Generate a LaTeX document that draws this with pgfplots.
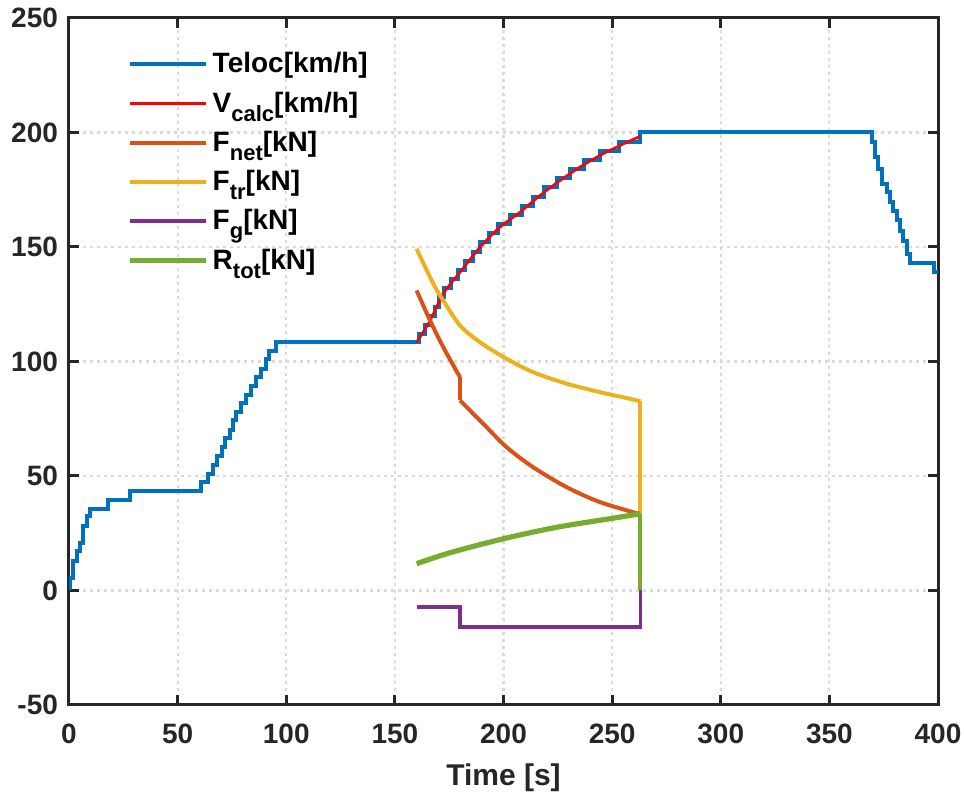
\documentclass[border=0pt]{standalone}
\usepackage{pgfplots}
\pgfplotsset{compat=1.18}
\usepackage{fontspec}
\setmainfont{Liberation Sans}
\definecolor{mblue}{rgb}{0,0.447,0.741}
\definecolor{morange}{rgb}{0.85,0.325,0.098}
\definecolor{myellow}{rgb}{0.929,0.694,0.125}
\definecolor{mpurple}{rgb}{0.494,0.184,0.556}
\definecolor{mgreen}{rgb}{0.466,0.674,0.188}
\definecolor{axc}{rgb}{0.15,0.15,0.15}
\newcommand{\sub}[1]{\raisebox{-4.5pt}{\fontsize{11}{12}\selectfont #1}}
\begin{document}
\begin{tikzpicture}
\begin{axis}[
  scale only axis, width=434.5pt, height=343.5pt,
  xmin=0, xmax=400, ymin=-50, ymax=250,
  xtick={0,50,...,400}, ytick={-50,0,...,250},
  grid=major,
  grid style={dash pattern=on 1.5pt off 2pt, line width=1.1pt, color=black!14},
  axis line style={line width=1.5pt, color=axc},
  major tick style={line width=1.5pt, color=axc},
  major tick length=5pt, tick align=inside,
  /pgf/number format/assume math mode=true,
  tick label style={font=\fontsize{14}{16}\selectfont\bfseries, color=axc},
  xticklabel style={yshift=-6pt},
  yticklabel style={xshift=-2pt},
  xlabel={Time [s]},
  xlabel style={font=\fontsize{15}{17}\selectfont\bfseries, color=axc, yshift=-3pt},
  legend style={draw=none, fill=none, at={(0.06,0.962)}, anchor=north west,
    font=\fontsize{14}{16}\selectfont\bfseries, row sep=4pt},
  legend cell align=left,
  legend image code/.code={\draw[#1] (0pt,0pt) -- (38pt,0pt);},
]
\addplot[const plot, color=mblue, line width=2pt] coordinates {
(0,1.1) (0.5,5.5) (2,12.9) (3.5,17.2) (5,20.9) (6.6,28.2) (8.1,32.6) (9.6,35.5)
(18,39.5) (28.3,43.3) (60.9,47.2) (64.2,50.9) (66.2,55) (68,58.9) (70.3,62.6)
(71.9,66.7) (73.9,70.2) (75.4,74.3) (76.9,77.9) (79.2,81.9) (81.5,85.5) (83.8,89.5)
(86.1,93.3) (88.4,96.9) (90.7,100.9) (92.2,104.7) (95.3,108.3)
(161,112) (163.7,116) (166.3,120) (168.3,124) (170.4,128) (172.6,132) (175.9,136)
(179.2,140) (182.5,144) (185.9,148) (189.3,152) (193.5,156) (197.6,160) (203,164)
(208.6,168) (213.6,172) (218.7,176) (224.6,180) (230.6,184) (237.2,188) (244.4,192)
(253,196) (263,200.4)
(369.5,195.8) (371,189.2) (372.5,184.1) (374.1,177.6) (376.4,173.9) (377.9,169.6)
(379.4,165.9) (381,161.6) (382.5,157.2) (384,152.8) (385.6,147) (387.1,142.9)
(398.3,139) (400,139)
};
\addlegendentry{Teloc[km/h]}
\addplot[color=red, line width=1.3pt, smooth] coordinates {
(160,108.4) (166.2,117.9) (172.3,129.6) (180,139) (189.2,149.9) (198.4,158.7)
(207.6,165.2) (216.8,172.5) (226,179) (235.2,184.9) (244.4,190) (253.6,194.3) (262.8,198.3)
};
\addlegendentry{V\sub{calc}[km/h]}
\addplot[color=morange, line width=2pt, smooth] coordinates {
(160,131) (166.2,117.9) (172.3,106.2) (180,93.1)
};
\addlegendentry{F\sub{net}[kN]}
\addplot[forget plot, color=morange, line width=2pt] coordinates {
(180,93.1) (180,83)
};
\addplot[forget plot, color=morange, line width=2pt, smooth] coordinates {
(180,83) (190.7,72.8) (201.4,62.6) (213.7,53.8) (229.1,45.1) (244.4,38.6) (263,33.3)
};
\addplot[forget plot, color=morange, line width=2pt] coordinates {
(263,33.3) (263,0)
};
\addplot[color=myellow, line width=2pt, smooth] coordinates {
(160,149.2) (167.7,133.9) (172.3,126.6) (180,115.7) (189.2,108.4) (201.4,101.2)
(213.7,95.3) (229.1,90.3) (244.4,86.6) (258.2,83.7) (263,82.6)
};
\addlegendentry{F\sub{tr}[kN]}
\addplot[forget plot, color=myellow, line width=2pt] coordinates {
(263,82.6) (263,0)
};
\addplot[color=mpurple, line width=1.8pt] coordinates {
(160,-7.3) (180,-7.3) (180,-16) (263,-16) (263,0)
};
\addlegendentry{F\sub{g}[kN]}
\addplot[color=mgreen, line width=2.6pt, smooth] coordinates {
(160,11.7) (175.4,16.5) (200,22.6) (224.5,27.6) (250,31.5) (263,33.5)
};
\addlegendentry{R\sub{tot}[kN]}
\addplot[forget plot, color=mgreen, line width=2pt] coordinates {
(263,33.5) (263,0)
};
\end{axis}
\pgfresetboundingbox
\path ([xshift=-34.5pt,yshift=-45pt]current axis.south west) rectangle ([xshift=13pt,yshift=9pt]current axis.north east);
\end{tikzpicture}
\end{document}
